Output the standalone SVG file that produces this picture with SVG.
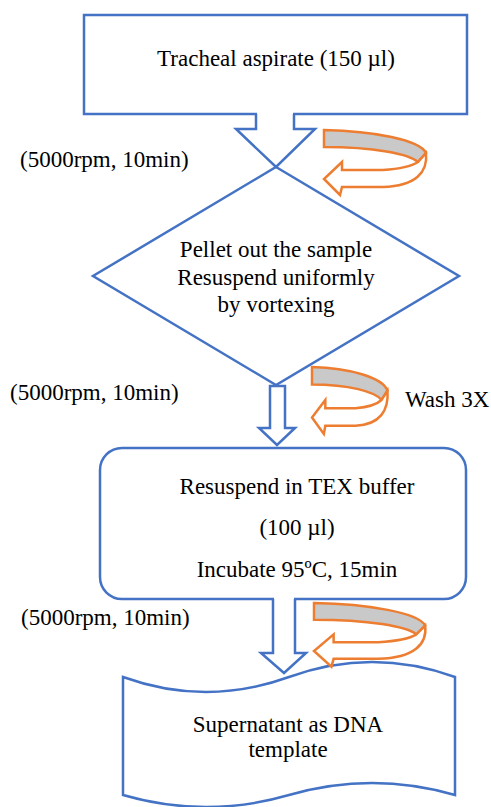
<svg xmlns="http://www.w3.org/2000/svg" width="491" height="807" viewBox="0 0 491 807">
<style>
.node{fill:#fff;stroke:#4472C4;stroke-width:2.5}
.blue{fill:none;stroke:#4472C4;stroke-width:2.5;stroke-linejoin:miter}
.wf{fill:#fff;stroke:none}
.t{font-family:"Liberation Serif","Times New Roman",serif;font-size:23px;fill:#000}
.band{fill:#C9C9C9;stroke:#ED7D31;stroke-width:2.5;vector-effect:non-scaling-stroke;stroke-linejoin:miter}
.front{fill:#fff;stroke:#ED7D31;stroke-width:2.5;vector-effect:non-scaling-stroke;stroke-linejoin:miter}
</style>
<defs>
<g id="turn">
<path class="band" d="M0,0 C50,1 96,10 102,23 L94,32 C85,24 50,17 0,17 Z"/>
<path class="front" d="M102,23 C104,42 92,56 59,57 L18,57 L16,65 L0,49 L18,32 L18,40 L59,40 C75,39 88,36 94,32 Z"/>
</g>
</defs>
<g id="n1">
<rect class="node" x="84" y="15" width="383" height="99"/>
<text class="t" x="276" y="66" text-anchor="middle">Tracheal aspirate (150 µl)</text>
</g>
<g id="n2">
<polygon class="node" points="276,167 459,276 276,385 93,276"/>
<text class="t" x="276" y="257" text-anchor="middle">Pellet out the sample</text>
<text class="t" x="276" y="285" text-anchor="middle">Resuspend uniformly</text>
<text class="t" x="276" y="312" text-anchor="middle">by vortexing</text>
</g>
<g id="n3">
<rect class="node" x="100" y="448" width="366" height="151" rx="22" ry="22"/>
<text class="t" x="297" y="494" text-anchor="middle">Resuspend in TEX buffer</text>
<text class="t" x="297" y="535" text-anchor="middle">(100 µl)</text>
<text class="t" x="297" y="577" text-anchor="middle">Incubate 95ºC, 15min</text>
</g>
<g id="n4">
<path class="node" d="M123,677 Q206,707 289,677 Q372,647 455,677 L455,795 Q372,771 289,795 Q206,819 123,795 Z"/>
<text class="t" x="288" y="732" text-anchor="middle">Supernatant as DNA</text>
<text class="t" x="288" y="757" text-anchor="middle">template</text>
</g>
<g id="connectors">
<polygon class="wf" points="257,111 257,129 236,129 276,167 315,129 293,129 293,111"/>
<polyline class="blue" points="256,114 256,129 236,129 276,167 315,129 294,129 294,114"/>
<polygon class="node" points="270,386 285,386 285,428 295,428 277,445 259,428 270,428"/>
<polygon class="wf" points="274,596 294,596 294,653 306,653 284,673 261,653 274,653"/>
<polyline class="blue" points="273,599 273,653 261,653 284,673 306,653 295,653 295,599"/>
<use href="#turn" transform="translate(324,130)"/>
<use href="#turn" transform="translate(312,367) scale(0.74,1.03)"/>
<use href="#turn" transform="translate(314,603) scale(1.09,0.98)"/>
</g>
<g id="labels">
<text class="t" x="20" y="167">(5000rpm, 10min)</text>
<text class="t" x="10" y="400">(5000rpm, 10min)</text>
<text class="t" x="21" y="625">(5000rpm, 10min)</text>
<text class="t" x="405" y="407">Wash 3X</text>
</g>
</svg>
